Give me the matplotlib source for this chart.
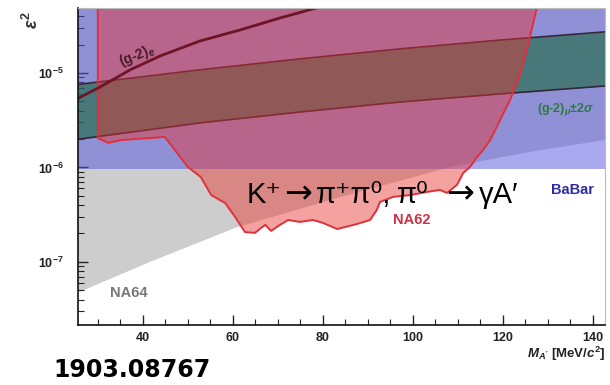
import matplotlib
matplotlib.use("Agg")
import matplotlib.pyplot as plt
from matplotlib.ticker import FixedLocator, NullFormatter, LogLocator

plt.rcParams['font.family'] = ['Liberation Sans', 'DejaVu Sans']
plt.rcParams['mathtext.fontset'] = 'custom'
plt.rcParams['mathtext.rm'] = 'Liberation Sans:bold'
plt.rcParams['mathtext.it'] = 'Liberation Sans:italic:bold'
plt.rcParams['mathtext.bf'] = 'Liberation Sans:bold'

# ---------------- data ----------------
na64_mass = [25.0, 41.6, 60.5, 81.6, 99.4, 108.3, 126.0, 143.0]
na64_eps2 = [4.6e-8, 1.0e-7, 2.29e-7, 4.53e-7, 7.74e-7, 1.01e-6, 1.46e-6, 1.97e-6]

babar_mass = [25.0, 143.0]
babar_eps2 = [9.7e-7, 9.7e-7]

gm2mu_mass = [25.0, 52.7, 74.9, 97.2, 119.4, 143.0]
gm2mu_upper = [7.5e-6, 1.08e-5, 1.41e-5, 1.80e-5, 2.23e-5, 2.73e-5]
gm2mu_lower = [1.97e-6, 2.96e-6, 3.86e-6, 4.93e-6, 6.0e-6, 7.3e-6]

gm2e_mass = [25.0, 30.5, 37.2, 43.8, 52.7, 61.6, 70.5, 79.4]
gm2e_eps2 = [5.2e-6, 7.1e-6, 1.08e-5, 1.51e-5, 2.18e-5, 2.85e-5, 3.82e-5, 5.0e-5]

na62_mass = [30.0, 30.0, 32.3, 35.2, 44.9, 50.0, 52.9, 55.2, 58.3, 60.5, 62.7, 64.9,
             67.2, 68.5, 70.5, 72.3, 74.9, 77.8, 80.0, 83.2, 87.6, 90.5, 92.0, 92.7,
             95.6, 99.4, 103.2, 106.0, 107.6, 109.8, 111.2, 112.7, 114.3, 115.6, 117.2,
             119.4, 121.6, 123.8, 125.6, 127.6, 128.5]
na62_eps2 = [1e-4, 2.05e-6, 1.82e-6, 1.95e-6, 2.10e-6, 1.01e-6, 7.9e-7, 5.1e-7, 4.2e-7,
             3.0e-7, 2.07e-7, 2.03e-7, 2.47e-7, 2.13e-7, 2.47e-7, 2.78e-7, 2.65e-7,
             2.78e-7, 2.59e-7, 2.23e-7, 2.52e-7, 2.78e-7, 3.55e-7, 4.31e-7, 4.88e-7,
             5.1e-7, 5.51e-7, 5.78e-7, 5.37e-7, 6.53e-7, 8.75e-7, 1.01e-6, 1.29e-6,
             1.53e-6, 1.95e-6, 3.18e-6, 5.18e-6, 9.53e-6, 1.98e-5, 5.0e-5, 1e-4]

x_ticks = [40, 60, 80, 100, 120, 140]
x_ticklabels = ['40', '60', '80', '100', '120', '140']
y_ticks = [1e-7, 1e-6, 1e-5]
y_ticklabels = [r'$10^{-7}$', r'$10^{-6}$', r'$10^{-5}$']

# ---------------- figure ----------------
W, H = 610, 385
fig = plt.figure(figsize=(W / 100, H / 100), dpi=100)
ax = fig.add_axes([78 / W, 1 - 325 / H, 527 / W, 317 / H])
ax.set_yscale('log')
ax.set_xlim(25.6, 142.7)
ax.set_ylim(2.15e-8, 4.87e-5)

TOP = 1e-3
# NA64 (gray)
ax.fill_between(na64_mass, na64_eps2, TOP, color='#cdcdcd', lw=0, zorder=1)
# BaBar (blue)
ax.fill_between(babar_mass, babar_eps2, TOP, color=(85/255, 85/255, 225/255), alpha=0.5, lw=0, zorder=2)
# (g-2)_mu band
ax.fill_between(gm2mu_mass, gm2mu_lower, gm2mu_upper, color=(25/255, 105/255, 60/255), alpha=0.6, lw=0, zorder=3)
ax.plot(gm2mu_mass, gm2mu_upper, color='#35263a', lw=1.2, zorder=4)
ax.plot(gm2mu_mass, gm2mu_lower, color='#35263a', lw=1.2, zorder=4)
# NA62 region
ax.fill(na62_mass, na62_eps2, color=(232/255, 50/255, 45/255), alpha=0.45, lw=0, zorder=5)
ax.plot(na62_mass, na62_eps2, color='#e0303c', lw=1.4, zorder=6)
# (g-2)_e
ax.plot(gm2e_mass, gm2e_eps2, color='#6e1426', lw=2.0, zorder=7)

# axes styling
for s in ['top', 'right']:
    ax.spines[s].set_color('#bbbbbb')
    ax.spines[s].set_linewidth(0.8)
for s in ['left', 'bottom']:
    ax.spines[s].set_color('#111111')
    ax.spines[s].set_linewidth(1.2)
for s in ax.spines.values():
    s.set_zorder(10)

ax.xaxis.set_major_locator(FixedLocator(x_ticks))
ax.set_xticklabels(x_ticklabels)
ax.xaxis.set_minor_locator(FixedLocator(list(range(30, 145, 5))))
ax.yaxis.set_major_locator(FixedLocator(y_ticks))
ax.set_yticklabels(y_ticklabels)
ax.yaxis.set_minor_locator(LogLocator(base=10, subs=range(2, 10)))
ax.yaxis.set_minor_formatter(NullFormatter())
ax.tick_params(which='both', direction='in', color='#222222')
ax.tick_params(which='major', length=7, width=1.0, labelsize=9, labelcolor='#222222')
ax.tick_params(which='minor', length=4, width=0.8)
ax.tick_params(axis='x', pad=5)
ax.tick_params(axis='y', pad=10)
for lab in ax.get_xticklabels():
    lab.set_fontweight('bold')


def fx(px):
    return px / W


def fy(py):
    return 1 - py / H


# texts
fig.text(fx(32), fy(20), r'$\varepsilon^{2}$', rotation=90, fontsize=13,
         color='#333333', ha='center', va='center')
fig.text(fx(606), fy(354), r'$M_{A^{\prime}}$ [MeV/$c^{2}$]', fontsize=9.5,
         fontweight='bold', color='#222222', ha='right', va='center')
fig.text(fx(137), fy(56), r'(g-2)$_{e}$', fontsize=10, fontweight='bold', color='#4a1a26',
         rotation=22, ha='center', va='center', zorder=20)
fig.text(fx(537), fy(110), r'(g-2)$_{\mu}$$\pm$2$\sigma$', fontsize=9, fontweight='bold',
         color='#2a7a40', ha='left', va='center', zorder=20)
fig.text(fx(573), fy(190), 'BaBar', fontsize=10.5, fontweight='bold', color='#2c2ca0',
         ha='center', va='center', zorder=20)
fig.text(fx(412), fy(220), 'NA62', fontsize=10.5, fontweight='bold', color='#cc3246',
         ha='center', va='center', zorder=20)
fig.text(fx(129), fy(293), 'NA64', fontsize=10.5, fontweight='bold', color='#777777',
         ha='center', va='center', zorder=20)

# big annotation, assembled from pieces so the arrows are long and centred
LIB = ['Liberation Sans', 'DejaVu Sans']
DJ = ['DejaVu Sans']
big_pieces = [
    ('K⁺', LIB, 21, 247),
    ('→', DJ, 24, 284),
    ('π⁺π⁰,', LIB, 21, 316),
    ('π⁰', LIB, 21, 397),
    ('→', DJ, 24, 446),
    ('γA′', LIB, 21, 479),
]
for txt, fam, size, px in big_pieces:
    fig.text(fx(px), fy(203), txt, fontsize=size, family=fam, color='black',
             ha='left', va='baseline', zorder=30)

fig.text(fx(53), fy(370), '1903.08767', fontsize=17, fontweight='bold', color='black',
         family=['DejaVu Sans'], ha='left', va='center')

fig.savefig('out.png', dpi=100)
